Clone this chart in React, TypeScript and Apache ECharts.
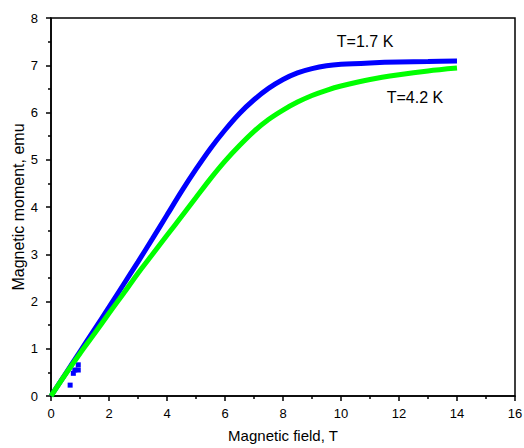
import React, { useEffect, useRef } from "react";
import * as echarts from "echarts";

const fieldT = [0, 0.5, 1, 1.5, 2, 2.5, 3, 3.5, 4, 4.5, 5, 5.5, 6, 6.5, 7, 7.5, 8, 8.5, 9, 9.5, 10, 11, 12, 13, 14];
const moment17K = [0, 0.47, 0.94, 1.41, 1.88, 2.36, 2.84, 3.33, 3.83, 4.33, 4.8, 5.24, 5.63, 5.98, 6.27, 6.51, 6.7, 6.84, 6.93, 6.99, 7.02, 7.05, 7.07, 7.08, 7.09];
const moment42K = [0, 0.46, 0.9, 1.32, 1.75, 2.17, 2.6, 3.0, 3.4, 3.8, 4.2, 4.6, 4.97, 5.3, 5.6, 5.85, 6.05, 6.22, 6.36, 6.47, 6.56, 6.7, 6.8, 6.88, 6.94];
const outliers17K: [number, number][] = [[0.66, 0.23], [0.77, 0.48], [0.82, 0.55], [0.94, 0.55], [0.94, 0.66]];
const labelNames = ["T=1.7 K", "T=4.2 K"];
const labelPos: [number, number][] = [[10.83, 7.51], [12.55, 6.32]];

const font = "Liberation Sans, Arial, sans-serif";

export default function App() {
  const ref = useRef<HTMLDivElement>(null);
  useEffect(() => {
    document.body.style.margin = "0";
    const chart = echarts.init(ref.current!, null, { renderer: "svg" });
    const axisCommon = {
      axisLine: { show: true, onZero: false, lineStyle: { color: "#000", width: 1.5 } },
      axisTick: { show: true, inside: false, length: 5, lineStyle: { color: "#000", width: 1.5 } },
      minorTick: { show: true, splitNumber: 2, length: 3, lineStyle: { color: "#000", width: 1.5 } },
      splitLine: { show: false },
      nameLocation: "middle" as const,
    };
    chart.setOption({
      animation: false,
      backgroundColor: "#fff",
      grid: {
        left: 51, top: 18, right: 9, bottom: 52,
        outerBoundsMode: "none",
        containLabel: false,
        show: true, borderColor: "#000", borderWidth: 1.5, backgroundColor: "transparent",
      },
      xAxis: {
        ...axisCommon,
        type: "value",
        min: 0,
        max: 16,
        interval: 2,
        name: "Magnetic field, T",
        nameGap: 32,
        nameTextStyle: { fontFamily: font, fontSize: 15, color: "#000" },
        axisLabel: { margin: 11, fontFamily: font, fontSize: 13, color: "#000" },
      },
      yAxis: {
        ...axisCommon,
        type: "value",
        min: 0,
        max: 8,
        interval: 1,
        name: "Magnetic moment, emu",
        nameGap: 25,
        nameMoveOverlap: false,
        nameTextStyle: { fontFamily: font, fontSize: 16, color: "#000" },
        axisLabel: { margin: 13, fontFamily: font, fontSize: 13, color: "#000" },
      },
      series: [
        {
          type: "line",
          name: labelNames[0],
          data: fieldT.map((b, i) => [b, moment17K[i]]),
          smooth: 0.3,
          showSymbol: false,
          lineStyle: { color: "#0000ff", width: 5 },
          z: 2,
          markPoint: {
            symbol: "circle",
            symbolSize: 0,
            data: [{ coord: labelPos[0], value: labelNames[0] }],
            label: { show: true, position: "inside", formatter: labelNames[0], fontFamily: font, fontSize: 16, color: "#000" },
          },
        },
        {
          type: "scatter",
          data: outliers17K,
          symbol: "rect",
          symbolSize: 5,
          itemStyle: { color: "#0000ff", opacity: 1 },
          z: 1,
        },
        {
          type: "line",
          name: labelNames[1],
          data: fieldT.map((b, i) => [b, moment42K[i]]),
          smooth: 0.3,
          showSymbol: false,
          lineStyle: { color: "#00ff00", width: 5 },
          z: 3,
          markPoint: {
            symbol: "circle",
            symbolSize: 0,
            data: [{ coord: labelPos[1], value: labelNames[1] }],
            label: { show: true, position: "inside", formatter: labelNames[1], fontFamily: font, fontSize: 16, color: "#000" },
          },
        },
      ],
    });
    return () => chart.dispose();
  }, []);
  return <div ref={ref} style={{ width: 524, height: 448 }} />;
}
